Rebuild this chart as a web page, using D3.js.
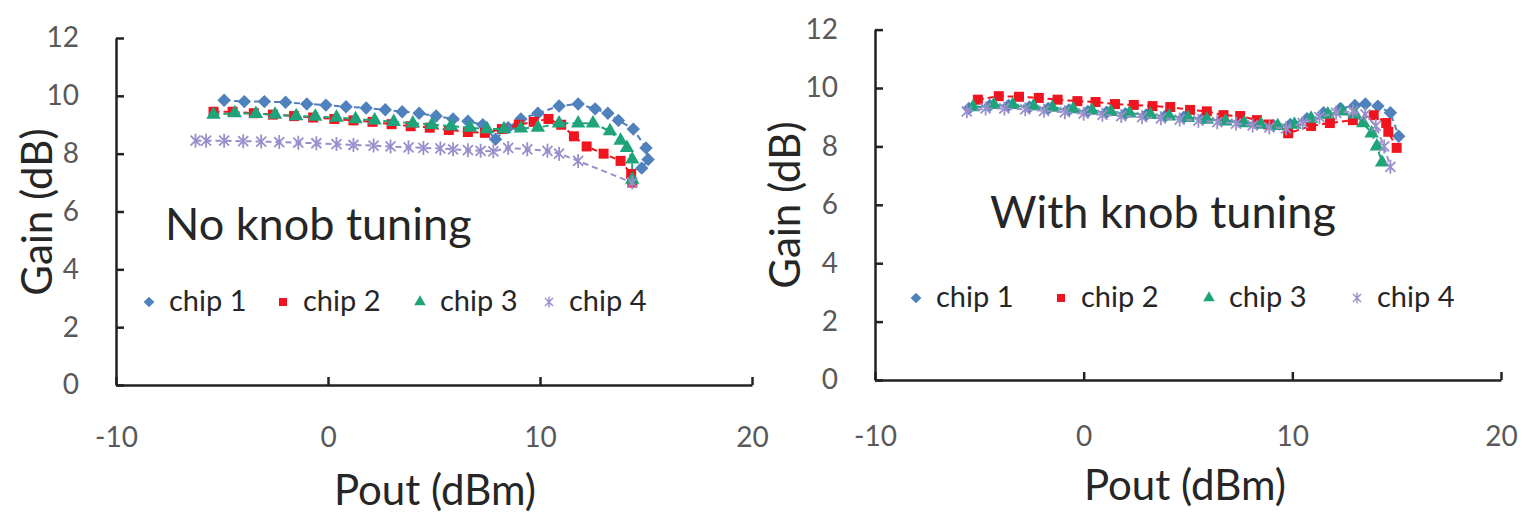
<!DOCTYPE html>
<html>
<head>
<meta charset="utf-8">
<script src="https://cdn.jsdelivr.net/npm/d3@7"></script>
<style>
  body { margin: 0; background: #fff; }
  svg { display: block; font-family: Lato, "Open Sans", sans-serif; }
</style>
</head>
<body>
<script>
// categories / legend
var chipNames = ["chip 1", "chip 2", "chip 3", "chip 4"];
var xTicks = [-10, 0, 10, 20];
var yTicks = [0, 2, 4, 6, 8, 10, 12];

// left panel: no knob tuning  (Pout dBm, Gain dB)
var noTuneChip1Pout = [-4.9,-3.95,-3.0,-2.0,-1.0,-0.1,0.85,1.8,2.7,3.5,4.3,5.1,5.9,6.6,7.3,7.9,8.5,9.1,9.9,10.9,11.8,12.6,13.2,13.7,14.4,15.0,15.1,14.8];
var noTuneChip1Gain = [9.85,9.8,9.8,9.78,9.72,9.68,9.62,9.58,9.52,9.45,9.4,9.3,9.2,9.12,9.0,8.5,8.9,9.2,9.4,9.65,9.72,9.55,9.4,9.15,8.85,8.2,7.8,7.5];
var noTuneChip2Pout = [-5.4,-4.5,-3.5,-2.6,-1.6,-0.7,0.3,1.2,2.1,3.0,3.9,4.8,5.7,6.6,7.4,8.2,9.0,9.7,10.4,11.0,11.6,12.2,13.0,13.8,14.3,14.35];
var noTuneChip2Gain = [9.45,9.45,9.4,9.35,9.3,9.25,9.2,9.15,9.1,9.02,8.95,8.9,8.82,8.75,8.72,8.85,9.0,9.1,9.2,9.0,8.6,8.25,8.0,7.75,7.3,7.0];
var noTuneChip3Pout = [-5.4,-4.4,-3.4,-2.5,-1.5,-0.6,0.4,1.3,2.2,3.1,4.0,4.9,5.8,6.7,7.5,8.3,9.1,9.9,10.9,11.8,12.5,13.3,13.8,14.1,14.35,14.35];
var noTuneChip3Gain = [9.35,9.4,9.38,9.35,9.3,9.28,9.25,9.2,9.15,9.1,9.05,9.0,8.95,8.9,8.85,8.85,8.88,8.9,9.05,9.05,9.05,8.78,8.45,8.2,7.8,7.1];
var noTuneChip4Pout = [-6.25,-5.75,-4.9,-4.0,-3.15,-2.3,-1.4,-0.55,0.4,1.2,2.15,2.95,3.8,4.5,5.3,5.9,6.6,7.2,7.8,8.5,9.4,10.35,10.9,11.8,14.35];
var noTuneChip4Gain = [8.45,8.45,8.45,8.43,8.42,8.4,8.38,8.36,8.33,8.3,8.28,8.25,8.22,8.2,8.18,8.15,8.12,8.1,8.08,8.2,8.15,8.1,8.0,7.75,7.0];

// right panel: with knob tuning
var tuneChip1Pout = [-5.5,-4.5,-3.6,-2.6,-1.7,-0.7,0.2,1.1,2.0,3.0,3.9,4.8,5.7,6.6,7.5,8.3,9.1,9.9,10.7,11.5,12.3,13.0,13.5,14.1,14.7,15.1];
var tuneChip1Gain = [9.3,9.4,9.4,9.35,9.3,9.25,9.2,9.17,9.12,9.08,9.03,9.0,8.95,8.9,8.85,8.78,8.72,8.75,8.95,9.15,9.3,9.4,9.45,9.38,9.15,8.35];
var tuneChip2Pout = [-5.07,-4.07,-3.1,-2.15,-1.25,-0.3,0.57,1.5,2.4,3.3,4.15,5.1,5.9,6.7,7.5,8.3,8.85,9.8,10.9,11.8,12.9,13.9,14.5,14.6,15.0];
var tuneChip2Gain = [9.6,9.72,9.7,9.66,9.6,9.55,9.52,9.45,9.42,9.38,9.35,9.25,9.2,9.07,9.04,8.9,8.75,8.45,8.7,8.8,8.9,9.07,8.8,8.5,7.95];
var tuneChip3Pout = [-5.3,-4.3,-3.4,-2.4,-1.5,-0.5,0.4,1.3,2.2,3.2,4.1,5.0,5.9,6.8,7.7,8.5,9.3,10.1,10.9,11.7,12.4,13.0,13.4,13.8,14.05,14.3];
var tuneChip3Gain = [9.35,9.42,9.42,9.38,9.33,9.28,9.23,9.18,9.13,9.08,9.03,8.98,8.92,8.86,8.8,8.75,8.7,8.75,8.95,9.1,9.2,9.1,8.8,8.45,8.0,7.45];
var tuneChip4Pout = [-5.6,-4.7,-3.8,-2.8,-1.9,-0.9,0.0,0.9,1.8,2.8,3.7,4.6,5.5,6.4,7.3,8.1,8.9,9.7,10.5,11.3,12.1,12.9,13.5,14.0,14.4,14.7];
var tuneChip4Gain = [9.2,9.3,9.3,9.27,9.22,9.17,9.12,9.08,9.04,9.0,8.96,8.92,8.88,8.83,8.78,8.72,8.65,8.62,8.8,9.0,9.15,9.2,9.1,8.7,8.0,7.3];

var colors = ["#4f81bd", "#f0141e", "#1fa37a", "#9a8fcc"];
var textDark = "#262626", tickGrey = "#595959";

var svg = d3.select("body").append("svg")
  .attr("width", 1530)
  .attr("height", 513);

function zip(xs, ys) {
  return xs.map(function(d, i) { return {x: d, y: ys[i]}; });
}

// marker path for each chip, centred on 0,0
function markerPath(k) {
  if (k === 0) return d3.symbol().type(d3.symbolSquare).size(90)();
  if (k === 1) return d3.symbol().type(d3.symbolSquare).size(100)();
  if (k === 2) return d3.symbol().type(d3.symbolTriangle).size(90)();
  return "M-5,-5L5,5M-5,5L5,-5M0,-7L0,7";
}

function addMarker(g, k, x, y) {
  var p = g.append("path").attr("d", markerPath(k));
  if (k === 0) p.attr("transform", "translate(" + x + "," + y + ") rotate(45)");
  else p.attr("transform", "translate(" + x + "," + y + ")");
  if (k === 3) p.attr("fill", "none").attr("stroke", colors[k]).attr("stroke-width", 1.8);
  else p.attr("fill", colors[k]);
  return p;
}

function drawPanel(cfg) {
  var x = d3.scaleLinear().domain([-10, 20]).range([cfg.left, cfg.right]);
  var y = d3.scaleLinear().domain([0, 12]).range([cfg.bottom, cfg.top]);
  var g = svg.append("g");

  // axes (plain hyphen minus like the original)
  var fmt = function(d) { return String(d); };
  var xAxis = g.append("g")
    .attr("transform", "translate(0," + cfg.bottom + ")")
    .call(d3.axisBottom(x).tickValues(xTicks).tickFormat(fmt).tickSizeInner(-8).tickSizeOuter(0).tickPadding(cfg.xPad));
  var yAxis = g.append("g")
    .attr("transform", "translate(" + cfg.left + ",0)")
    .call(d3.axisLeft(y).tickValues(yTicks).tickFormat(fmt).tickSizeInner(-8).tickSizeOuter(0).tickPadding(37));
  [xAxis, yAxis].forEach(function(a) {
    a.select(".domain").attr("stroke", "#222").attr("stroke-width", 2.5);
    a.selectAll(".tick line").attr("stroke", "#222").attr("stroke-width", 2.5);
    a.selectAll(".tick text").attr("fill", tickGrey).style("font-size", "28px")
      .style("font-family", "Lato, 'Open Sans', sans-serif");
  });

  // series
  cfg.series.forEach(function(s, k) {
    var pts = zip(s[0], s[1]);
    g.append("path")
      .datum(pts)
      .attr("fill", "none")
      .attr("stroke", colors[k])
      .attr("stroke-width", 2)
      .attr("stroke-dasharray", "6,4")
      .attr("d", d3.line().x(function(d) { return x(d.x); }).y(function(d) { return y(d.y); }));
    var mg = g.append("g");
    pts.forEach(function(d) { addMarker(mg, k, x(d.x), y(d.y)); });
  });

  // titles
  g.append("text")
    .attr("x", cfg.titleX).attr("y", cfg.titleY)
    .attr("fill", textDark).style("font-size", "45px")
    .text(cfg.title);
  g.append("text")
    .attr("transform", "translate(" + cfg.yLabelX + "," + cfg.yLabelY + ") rotate(-90)")
    .attr("text-anchor", "middle")
    .attr("dy", "0.35em")
    .attr("fill", textDark).style("font-size", "42px")
    .text("Gain (dB)");
  g.append("text")
    .attr("x", cfg.xLabelX).attr("y", cfg.xLabelY)
    .attr("text-anchor", "middle")
    .attr("fill", textDark).style("font-size", "42px")
    .text("Pout (dBm)");

  // legend
  var lg = g.append("g");
  chipNames.forEach(function(name, k) {
    var lx = cfg.legendX[k];
    addMarker(lg, k, lx, cfg.legendY).attr("transform", function() {
      return "translate(" + lx + "," + cfg.legendY + ")" + (k === 0 ? " rotate(45) scale(0.8)" : " scale(0.8)");
    });
    lg.append("text")
      .attr("x", lx + 20).attr("y", cfg.legendY + 9)
      .attr("fill", textDark).style("font-size", "29px")
      .text(name);
  });
}

drawPanel({
  left: 116, right: 752, top: 38, bottom: 385, xPad: 42,
  title: "No knob tuning", titleX: 165, titleY: 240,
  yLabelX: 37, yLabelY: 212, xLabelX: 435, xLabelY: 505,
  legendX: [149, 283, 420, 549], legendY: 302,
  series: [[noTuneChip1Pout, noTuneChip1Gain], [noTuneChip2Pout, noTuneChip2Gain],
           [noTuneChip3Pout, noTuneChip3Gain], [noTuneChip4Pout, noTuneChip4Gain]]
});

drawPanel({
  left: 875, right: 1501, top: 29.6, bottom: 380, xPad: 46,
  title: "With knob tuning", titleX: 990, titleY: 228,
  yLabelX: 785, yLabelY: 205, xLabelX: 1185, xLabelY: 500,
  legendX: [916, 1061, 1209, 1357], legendY: 298,
  series: [[tuneChip1Pout, tuneChip1Gain], [tuneChip2Pout, tuneChip2Gain],
           [tuneChip3Pout, tuneChip3Gain], [tuneChip4Pout, tuneChip4Gain]]
});
</script>
</body>
</html>
